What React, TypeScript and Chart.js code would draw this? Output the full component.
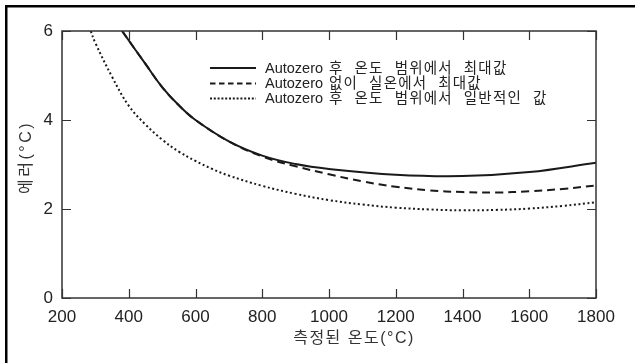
import React, { useEffect, useRef } from 'react';
import { Chart, registerables } from 'chart.js';

Chart.register(...registerables);

// ---- data ----
const seriesLabels = [
  'Autozero 후 온도 범위에서 최대값',
  'Autozero 없이 실온에서 최대값',
  'Autozero 후 온도 범위에서 일반적인 값',
];

const xTickValues = [200, 400, 600, 800, 1000, 1200, 1400, 1600, 1800];
const yTickValues = [0, 2, 4, 6];

const solidX = [380, 450, 500, 550, 600, 700, 800, 900, 1000, 1200, 1400, 1600, 1800];
const solidY = [6.0, 5.26, 4.74, 4.33, 4.0, 3.52, 3.20, 3.01, 2.90, 2.77, 2.74, 2.83, 3.04];

const dashedX = [380, 450, 500, 550, 600, 700, 800, 900, 1000, 1100, 1200, 1300, 1400, 1500, 1600, 1700, 1800];
const dashedY = [6.0, 5.26, 4.74, 4.33, 4.0, 3.52, 3.18, 2.96, 2.78, 2.62, 2.50, 2.42, 2.38, 2.37, 2.40, 2.45, 2.53];

const dottedX = [286, 300, 350, 400, 450, 500, 550, 600, 650, 700, 800, 900, 1000, 1100, 1200, 1300, 1400, 1500, 1600, 1700, 1800];
const dottedY = [6.0, 5.73, 4.97, 4.32, 3.90, 3.56, 3.29, 3.08, 2.90, 2.75, 2.52, 2.34, 2.20, 2.10, 2.03, 1.99, 1.97, 1.98, 2.01, 2.07, 2.15];

const xTitle = '측정된 온도(°C)';
const yTitle = '에러(°C)';

const FONT = "'Liberation Sans', Arial, 'Noto Sans CJK KR', sans-serif";
const LINE_COLOR = '#1a1a1a';

const toPoints = (xs: number[], ys: number[]) => xs.map((x, i) => ({ x, y: ys[i] }));

const decorPlugin = {
  id: 'decor',
  afterDraw(chart: any) {
    const ctx = chart.ctx as CanvasRenderingContext2D;
    const a = chart.chartArea;
    const xs = chart.scales.x;
    const ys = chart.scales.y;
    ctx.save();

    // outer frame (left + top)
    ctx.strokeStyle = '#000';
    ctx.lineWidth = 2.5;
    ctx.beginPath();
    ctx.moveTo(6.25, 363);
    ctx.lineTo(6.25, 6.25);
    ctx.lineTo(635, 6.25);
    ctx.stroke();

    // plot box
    ctx.strokeStyle = '#333';
    ctx.lineWidth = 1.5;
    ctx.strokeRect(a.left, a.top, a.right - a.left, a.bottom - a.top);

    // inward ticks
    const tl = 9;
    ctx.lineWidth = 1.2;
    ctx.beginPath();
    xs.ticks.forEach((t: any) => {
      const px = Math.round(xs.getPixelForValue(t.value)) + 0.5;
      ctx.moveTo(px, a.bottom);
      ctx.lineTo(px, a.bottom - tl);
      ctx.moveTo(px, a.top);
      ctx.lineTo(px, a.top + tl);
    });
    ys.ticks.forEach((t: any) => {
      const py = Math.round(ys.getPixelForValue(t.value)) + 0.5;
      ctx.moveTo(a.left, py);
      ctx.lineTo(a.left + tl, py);
      ctx.moveTo(a.right, py);
      ctx.lineTo(a.right - tl, py);
    });
    ctx.stroke();

    // legend
    const ds = chart.data.datasets;
    const rowY = [68, 83.5, 98.5];
    ctx.textBaseline = 'middle';
    ctx.textAlign = 'left';
    ctx.fillStyle = '#222';
    ds.forEach((d: any, i: number) => {
      const y = rowY[i];
      ctx.strokeStyle = d.borderColor;
      ctx.lineWidth = 2;
      ctx.setLineDash(i === 1 ? [5.5, 3.5] : i === 2 ? [2, 1.8] : []);
      ctx.beginPath();
      ctx.moveTo(210, y);
      ctx.lineTo(256, y);
      ctx.stroke();
      ctx.setLineDash([]);
      let x = 265;
      const words = String(d.label).split(' ');
      words.forEach((w: string) => {
        const latin = /^[A-Za-z]+$/.test(w);
        ctx.font = `14.5px ${FONT}`;
        (ctx as any).letterSpacing = latin ? '0px' : '1.2px';
        ctx.fillText(w, x, y + 0.5);
        x += ctx.measureText(w).width + (latin ? 6 : 11);
      });
      (ctx as any).letterSpacing = '0px';
    });

    // axis titles
    ctx.fillStyle = '#333';
    ctx.textAlign = 'center';
    ctx.font = `16px ${FONT}`;
    (ctx as any).letterSpacing = '1.5px';
    ctx.fillText(xTitle, 354, 339);
    ctx.translate(27, 157.5);
    ctx.rotate(-Math.PI / 2);
    (ctx as any).letterSpacing = '2.5px';
    ctx.fillText(yTitle, 0, 0);
    (ctx as any).letterSpacing = '0px';
    ctx.restore();
  },
};

export default function App() {
  const ref = useRef<HTMLCanvasElement | null>(null);

  useEffect(() => {
    document.body.style.margin = '0';
    const canvas = ref.current;
    if (!canvas) return;
    const common = {
      borderColor: LINE_COLOR,
      borderWidth: 2,
      pointRadius: 0,
      tension: 0.4,
    };
    const chart = new Chart(canvas, {
      type: 'line',
      data: {
        datasets: [
          { ...common, label: seriesLabels[0], data: toPoints(solidX, solidY) },
          { ...common, label: seriesLabels[1], data: toPoints(dashedX, dashedY), borderDash: [8, 5] },
          { ...common, label: seriesLabels[2], data: toPoints(dottedX, dottedY), borderDash: [2, 2.6] },
        ],
      },
      options: {
        responsive: false,
        animation: false,
        devicePixelRatio: 1,
        layout: { padding: { top: 31, right: 39, left: 0, bottom: 0 } },
        plugins: { legend: { display: false }, tooltip: { enabled: false } },
        scales: {
          x: {
            type: 'linear',
            min: xTickValues[0],
            max: xTickValues[xTickValues.length - 1],
            afterBuildTicks: (s: any) => {
              s.ticks = xTickValues.map((v) => ({ value: v }));
            },
            ticks: {
              font: { family: FONT, size: 17 },
              color: '#222',
              padding: 9,
              maxRotation: 0,
              autoSkip: false,
              callback: (v: any) => String(v),
            },
            grid: { display: false, drawTicks: false },
            border: { display: false },
            afterFit: (s: any) => {
              s.height = 65;
            },
          },
          y: {
            type: 'linear',
            min: yTickValues[0],
            max: yTickValues[yTickValues.length - 1],
            afterBuildTicks: (s: any) => {
              s.ticks = yTickValues.map((v) => ({ value: v }));
            },
            ticks: {
              font: { family: FONT, size: 17 },
              color: '#222',
              padding: 9,
              callback: (v: any) => String(v),
            },
            grid: { display: false, drawTicks: false },
            border: { display: false },
            afterFit: (s: any) => {
              s.width = 62;
            },
          },
        },
      },
      plugins: [decorPlugin],
    } as any);
    return () => chart.destroy();
  }, []);

  return (
    <div style={{ position: 'absolute', left: 0, top: 0, width: 635, height: 363, background: '#fff' }}>
      <canvas ref={ref} width={635} height={363} style={{ display: 'block' }} />
    </div>
  );
}
